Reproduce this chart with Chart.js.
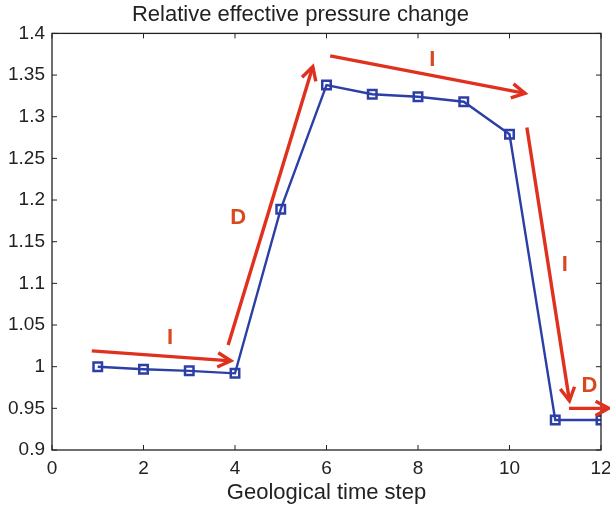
<!DOCTYPE html>
<html>
<head>
<meta charset="utf-8">
<script src="https://cdn.jsdelivr.net/npm/chart.js@4"></script>
<style>
  html, body { margin: 0; padding: 0; background: #fff; }
  #wrap { width: 610px; height: 509px; }
</style>
</head>
<body>
<div id="wrap"><canvas id="pressureChart" width="610" height="509"></canvas></div>
<script>
// values
const steps = [1, 2, 3, 4, 5, 6, 7, 8, 9, 10, 11, 12];
const pressure = [1.0, 0.997, 0.995, 0.992, 1.189, 1.338, 1.327, 1.324, 1.318, 1.279, 0.936, 0.936];
const xTicks = [0, 2, 4, 6, 8, 10, 12];
const yTicks = [0.9, 0.95, 1, 1.05, 1.1, 1.15, 1.2, 1.25, 1.3, 1.35, 1.4];

// red trend arrows, in data units: [x, y]
const arrowStarts = [[0.87, 1.019], [3.85, 1.026], [6.08, 1.373], [10.38, 1.287], [11.3, 0.95]];
const arrowEnds = [[3.91, 1.007], [5.70, 1.360], [10.34, 1.328], [11.31, 0.959], [12.17, 0.95]];
const arrowLabels = ['I', 'D', 'I', 'I', 'D'];
const labelSpots = [[2.58, 1.034], [4.07, 1.179], [8.31, 1.368], [11.21, 1.122], [11.75, 0.977]];

const FONT = "'Liberation Sans', Arial, Helvetica, sans-serif";

const framePlugin = {
    id: 'frame',
    afterDatasetsDraw(chart) {
        const ctx = chart.ctx;
        const a = chart.chartArea;
        const xs = chart.scales.x, ys = chart.scales.y;
        ctx.save();
        ctx.strokeStyle = '#222';
        ctx.lineWidth = 1.3;
        ctx.strokeRect(a.left, a.top, a.right - a.left, a.bottom - a.top);
        ctx.lineWidth = 1;
        xTicks.forEach(function (v) {
            const px = xs.getPixelForValue(v);
            ctx.beginPath();
            ctx.moveTo(px, a.bottom); ctx.lineTo(px, a.bottom - 5);
            ctx.moveTo(px, a.top); ctx.lineTo(px, a.top + 5);
            ctx.stroke();
        });
        yTicks.forEach(function (v) {
            const py = ys.getPixelForValue(v);
            ctx.beginPath();
            ctx.moveTo(a.left, py); ctx.lineTo(a.left + 5, py);
            ctx.moveTo(a.right, py); ctx.lineTo(a.right - 5, py);
            ctx.stroke();
        });
        ctx.restore();
    }
};

const arrowPlugin = {
    id: 'arrows',
    afterDraw(chart) {
        const ctx = chart.ctx;
        const xs = chart.scales.x, ys = chart.scales.y;
        ctx.save();
        ctx.strokeStyle = '#e0301e';
        ctx.lineWidth = 3.4;
        for (let i = 0; i < arrowStarts.length; i++) {
            const x0 = xs.getPixelForValue(arrowStarts[i][0]);
            const y0 = ys.getPixelForValue(arrowStarts[i][1]);
            const x1 = xs.getPixelForValue(arrowEnds[i][0]);
            const y1 = ys.getPixelForValue(arrowEnds[i][1]);
            const ang = Math.atan2(y1 - y0, x1 - x0);
            const head = 15, spread = 0.5;
            ctx.beginPath();
            ctx.moveTo(x0, y0); ctx.lineTo(x1, y1);
            ctx.stroke();
            ctx.beginPath();
            ctx.moveTo(x1 - head * Math.cos(ang - spread), y1 - head * Math.sin(ang - spread));
            ctx.lineTo(x1, y1);
            ctx.lineTo(x1 - head * Math.cos(ang + spread), y1 - head * Math.sin(ang + spread));
            ctx.stroke();
        }
        ctx.fillStyle = '#d9481e';
        ctx.font = 'bold 22px ' + FONT;
        ctx.textAlign = 'center';
        ctx.textBaseline = 'middle';
        labelSpots.forEach(function (p, i) {
            ctx.fillText(arrowLabels[i], xs.getPixelForValue(p[0]), ys.getPixelForValue(p[1]));
        });
        ctx.restore();
    }
};

const pressureConfig = {
    type: 'line',
    data: {
        labels: steps,
        datasets: [{
            data: steps.map(function (s, i) { return { x: s, y: pressure[i] }; }),
            borderColor: '#2c3fa6',
            borderWidth: 2.4,
            pointStyle: 'rect',
            pointRadius: 6,
            pointBorderWidth: 2.5,
            pointBackgroundColor: 'rgba(0,0,0,0)',
            pointBorderColor: '#2c3fa6',
            tension: 0
        }]
    },
    options: {
        responsive: false,
        animation: false,
        layout: { padding: { left: 0, right: 9, top: 0, bottom: 3 } },
        plugins: {
            legend: { display: false },
            tooltip: { enabled: false },
            title: {
                display: true,
                text: 'Relative effective pressure change',
                color: '#222',
                font: { size: 22, family: FONT, weight: 'normal' },
                padding: { top: 2, bottom: 5 }
            }
        },
        scales: {
            x: {
                type: 'linear',
                min: 0, max: 12,
                afterBuildTicks: function (scale) { scale.ticks = xTicks.map(function (v) { return { value: v }; }); },
                afterFit: function (scale) { scale.paddingLeft = 0; scale.paddingRight = 0; scale.height = 56; },
                grid: { display: false, drawTicks: false },
                border: { display: false },
                ticks: { color: '#222', font: { size: 19, family: FONT }, padding: 7, maxRotation: 0 },
                title: {
                    display: true, text: 'Geological time step', color: '#222',
                    font: { size: 22, family: FONT }, padding: { top: 1, bottom: 0 }
                }
            },
            y: {
                min: 0.9, max: 1.4,
                afterBuildTicks: function (scale) { scale.ticks = yTicks.map(function (v) { return { value: v }; }); },
                afterFit: function (scale) { scale.width = 52; scale.paddingTop = 0; scale.paddingBottom = 0; },
                grid: { display: false, drawTicks: false },
                border: { display: false },
                ticks: {
                    color: '#222', font: { size: 19, family: FONT }, padding: 7,
                    callback: function (v) { return String(Math.round(v * 100) / 100); }
                }
            }
        }
    },
    plugins: [framePlugin, arrowPlugin]
};

window.onload = function () {
    const ctx = document.getElementById('pressureChart').getContext('2d');
    new Chart(ctx, pressureConfig);
};
</script>
</body>
</html>
